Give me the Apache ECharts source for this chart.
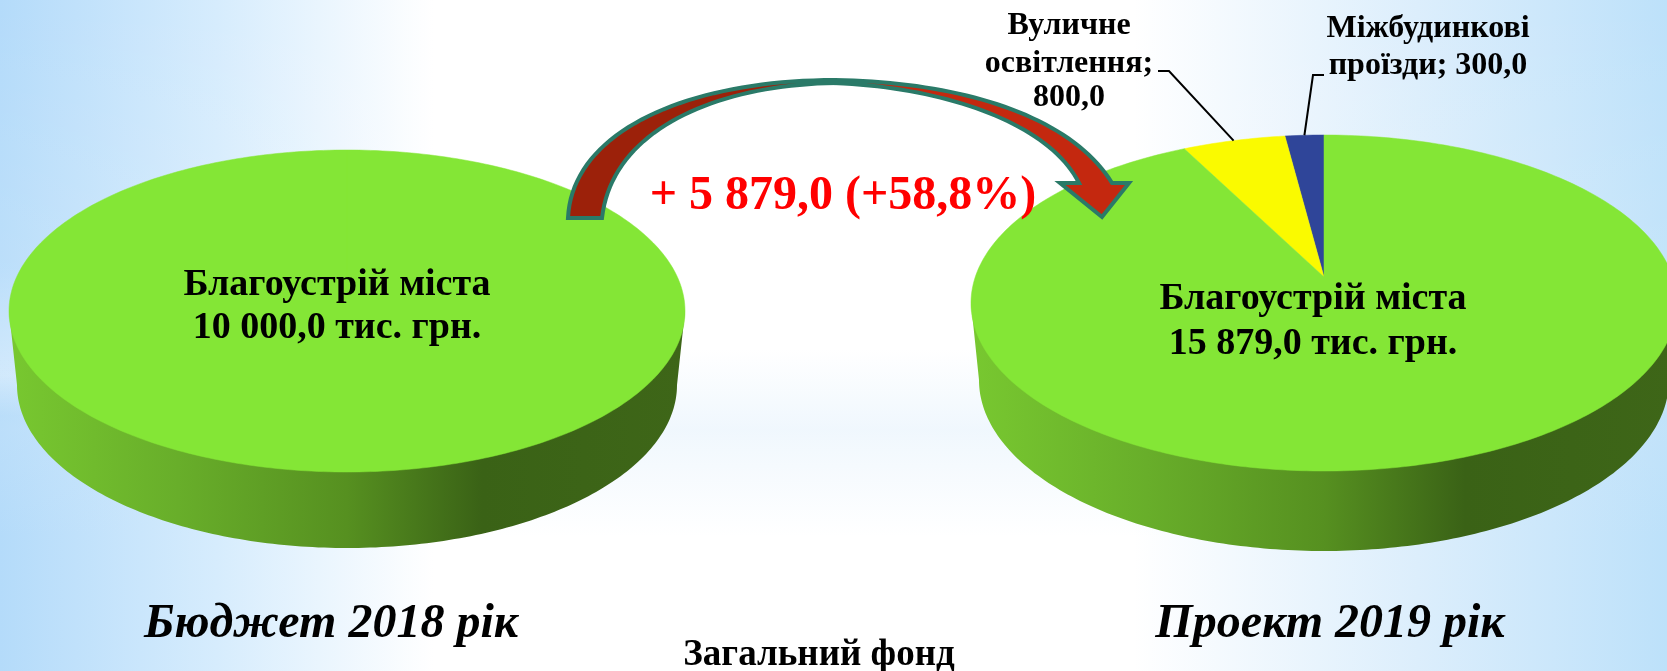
<!DOCTYPE html>
<html>
<head>
<meta charset="utf-8">
<style>html,body{margin:0;padding:0;background:#fff}#c{width:1667px;height:671px}</style>
<script src="https://cdn.jsdelivr.net/npm/echarts@6/dist/echarts.min.js"></script>
</head>
<body>
<div id="c"></div>
<script>
// ---- data ----
const categories2018 = ['Благоустрій міста'];
const values2018 = [10000];
const categories2019 = ['Міжбудинкові проїзди', 'Вуличне освітлення', 'Благоустрій міста'];
const values2019 = [300, 800, 15879];
const colors2018 = ['#84e636'];
const colors2019 = ['#2f4599', '#fafa00', '#84e636'];
const changeLabel = '+ 5 879,0 (+58,8%)';
const yearLabels = ['Бюджет 2018 рік', 'Проект 2019 рік'];
const footLabel = 'Загальний фонд';
const pieLabel2018 = ['Благоустрій міста', '10 000,0 тис. грн.'];
const pieLabel2019 = ['Благоустрій міста', '15 879,0 тис. грн.'];
const calloutBlue = ['Міжбудинкові', 'проїзди; 300,0'];
const calloutYellow = ['Вуличне', 'освітлення;', '800,0'];

// ---- layout ----
const geoL = {cx:347, cy:311, rx:338, ry:161, ax:347, ay:290, bcy:385, brx:330, bry:163};
const geoR = {cx:1324, cy:303, rx:353, ry:168, ax:1324, ay:277, bcy:380, brx:345, bry:171};
const SERIF = '"Liberation Serif","Times New Roman",serif';

function sideGradient(){
  return {type:'linear',x:0,y:0,x2:1,y2:0,colorStops:[
    {offset:0,color:'#78c830'},{offset:.25,color:'#68ae2a'},{offset:.5,color:'#569020'},
    {offset:.7,color:'#3a6216'},{offset:1,color:'#3e6618'}]};
}
function rim(g,deg){ // deg clockwise from top of the ellipse
  const t=deg*Math.PI/180;
  return [g.cx+g.rx*Math.sin(t), g.cy-g.ry*Math.cos(t)];
}
function sideRender(g){
  return function(){
    const pts=[];
    for(let i=0;i<=180;i++){const t=Math.PI*i/180; pts.push([g.cx+g.brx*Math.cos(t), g.bcy+g.bry*Math.sin(t)]);}
    pts.push([g.cx-g.rx,g.cy]);
    pts.push([g.cx+g.rx,g.cy]);
    return {type:'polygon',shape:{points:pts},style:{fill:sideGradient()},silent:true};
  };
}
function sliceRender(g,values,colors){
  const total=values.reduce((a,b)=>a+b,0);
  return function(params){
    const i=params.dataIndex;
    let start=0; for(let k=0;k<i;k++) start+=values[k];
    const a0=-start/total*360, a1=-(start+values[i])/total*360;
    const pts=[[g.ax,g.ay]];
    const n=Math.max(2,Math.ceil(Math.abs(a1-a0)));
    for(let k=0;k<=n;k++) pts.push(rim(g,a0+(a1-a0)*k/n));
    return {type:'polygon',silent:true,shape:{points:pts},style:{fill:colors[i],stroke:colors[i],lineWidth:.5}};
  };
}
function calloutRender(g,values,idx,elbow,end){
  const total=values.reduce((a,b)=>a+b,0);
  let start=0; for(let k=0;k<idx;k++) start+=values[k];
  const mid=-(start+values[idx]/2)/total*360;
  return {type:'polyline',silent:true,shape:{points:[rim(g,mid),elbow,end]},style:{stroke:'#000',lineWidth:2,fill:null}};
}
function bez(p0,p1,p2,p3,n){
  const out=[];
  for(let i=0;i<=(n||40);i++){
    const t=i/(n||40),u=1-t;
    out.push([u*u*u*p0[0]+3*u*u*t*p1[0]+3*u*t*t*p2[0]+t*t*t*p3[0],
              u*u*u*p0[1]+3*u*u*t*p1[1]+3*u*t*t*p2[1]+t*t*t*p3[1]]);
  }
  return out;
}
function text(str,x,y,size,opts){
  return {type:'text',x:x,y:y,silent:true,z:50,
    style:Object.assign({text:str,fill:'#000',font:'bold '+size+'px '+SERIF,textAlign:'center',textVerticalAlign:'middle'},opts||{})};
}
function lines(arr,x,ys,size){return arr.map((s,i)=>text(s,x,ys[i],size));}

const arrowLeft=[...bez([568,218],[572,130],[690,80],[835,80]),...bez([835,83],[715,85],[612,130],[602,218])];
const arrowRight=[...bez([835,80],[960,82],[1070,115],[1112,183]),[1129,183],[1102,217],[1060,183],[1079,183],...bez([1079,183],[1050,125],[950,88],[835,83])];

const graphics=[
  // background
  {type:'rect',z:-10,silent:true,shape:{x:0,y:0,width:1667,height:671},style:{fill:{type:'linear',x:0,y:0,x2:1,y2:0,colorStops:[
     {offset:0,color:'#b4dbfa'},{offset:.13,color:'#d6ecfd'},{offset:.26,color:'#ffffff'},{offset:.68,color:'#ffffff'},{offset:.85,color:'#dceefc'},{offset:1,color:'#bde1fa'}]}}},
  {type:'rect',z:-9,silent:true,shape:{x:0,y:0,width:1667,height:671},style:{fill:{type:'linear',x:0,y:0,x2:0,y2:1,colorStops:[
     {offset:0,color:'rgba(255,255,255,0)'},{offset:.4,color:'rgba(255,255,255,.1)'},{offset:.56,color:'rgba(255,255,255,.4)'},{offset:.62,color:'rgba(255,255,255,0)'},{offset:1,color:'rgba(255,255,255,0)'}]}}},
  {type:'rect',z:-8,silent:true,shape:{x:0,y:0,width:1667,height:671},style:{fill:{type:'linear',x:0,y:0,x2:0,y2:1,colorStops:[
     {offset:0,color:'rgba(205,230,250,0)'},{offset:.52,color:'rgba(205,230,250,0)'},{offset:.64,color:'rgba(205,230,250,.3)'},{offset:.8,color:'rgba(205,230,250,0)'},{offset:1,color:'rgba(205,230,250,0)'}]}}},
  // change arrow
  {type:'polygon',z:40,silent:true,shape:{points:arrowLeft},style:{fill:'#9c210a',stroke:'#2a7a68',lineWidth:4}},
  {type:'polygon',z:40,silent:true,shape:{points:arrowRight},style:{fill:'#c4280f',stroke:'#2a7a68',lineWidth:4,lineJoin:'miter'}},
  text(changeLabel,843,197,48,{fill:'#ff0000'}),
  ...lines(pieLabel2018,337,[285,328],38),
  ...lines(pieLabel2019,1313,[299,344],38),
  ...lines(calloutYellow,1069,[26,64,98],32),
  ...lines(calloutBlue,1428,[29,66],32),
  text(yearLabels[0],331,625,48,{font:'italic bold 48px '+SERIF}),
  text(yearLabels[1],1330,625,48,{font:'italic bold 48px '+SERIF}),
  text(footLabel,819,655,37)
];

const base={type:'custom',coordinateSystem:'none',animation:false,silent:true};
const option={
  animation:false,
  graphic:{elements:graphics},
  series:[
    Object.assign({},base,{name:'side2018',z:2,data:[0],renderItem:sideRender(geoL)}),
    Object.assign({},base,{name:'Бюджет 2018',z:3,data:values2018,renderItem:sliceRender(geoL,values2018,colors2018)}),
    Object.assign({},base,{name:'side2019',z:2,data:[0],renderItem:sideRender(geoR)}),
    Object.assign({},base,{name:'Проект 2019',z:3,data:values2019,renderItem:sliceRender(geoR,values2019,colors2019)}),
    Object.assign({},base,{name:'callouts',z:4,data:[0,1],renderItem:function(p){
      return p.dataIndex===0 ? calloutRender(geoR,values2019,0,[1313,75],[1324,75])
                             : calloutRender(geoR,values2019,1,[1169,71],[1158,71]);
    }})
  ]
};
echarts.init(document.getElementById('c'),null,{renderer:'canvas'}).setOption(option);
</script>
</body>
</html>
